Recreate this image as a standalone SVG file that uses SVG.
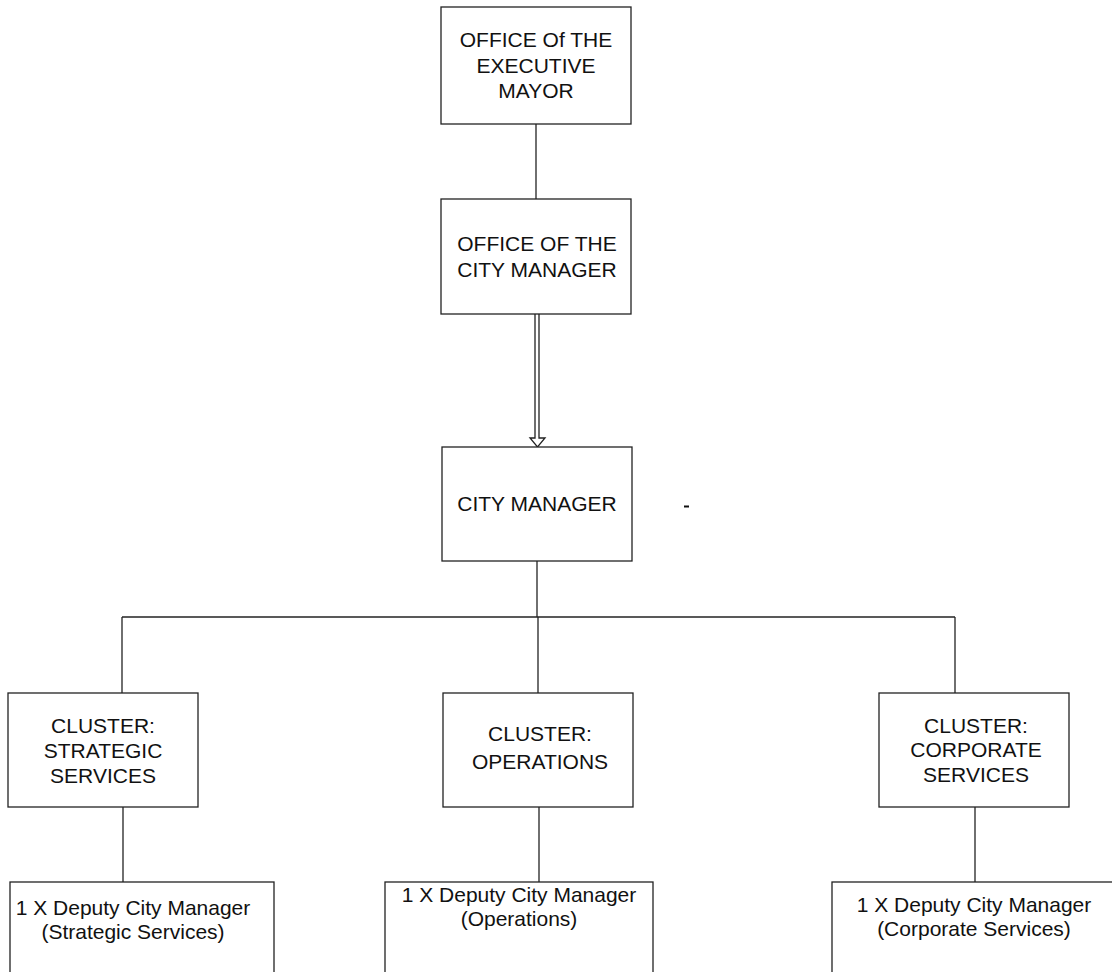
<svg xmlns="http://www.w3.org/2000/svg" width="1112" height="972" viewBox="0 0 1112 972">
<style>
.box{fill:#fff;stroke:#222;stroke-width:1.3}
.ln{fill:none;stroke:#222;stroke-width:1.3}
text{font-family:"Liberation Sans",Arial,sans-serif;font-size:21px;fill:#111;text-anchor:middle}
</style>
<rect width="1112" height="972" fill="#fff"/>
<g id="connectors">
<line class="ln" x1="536" y1="124" x2="536" y2="199"/>
<path class="ln" d="M535,314 V438 H530 L537.5,447 L545,438 H539 V314" fill="#fff"/>
<line class="ln" x1="537" y1="561" x2="537" y2="617"/>
<line class="ln" x1="122" y1="617" x2="955" y2="617"/>
<line class="ln" x1="122" y1="617" x2="122" y2="693"/>
<line class="ln" x1="538" y1="617" x2="538" y2="693"/>
<line class="ln" x1="955" y1="617" x2="955" y2="693"/>
<line class="ln" x1="123" y1="807" x2="123" y2="882"/>
<line class="ln" x1="539" y1="807" x2="539" y2="882"/>
<line class="ln" x1="975" y1="807" x2="975" y2="882"/>
<line class="ln" x1="1032" y1="961" x2="1112" y2="961" stroke="#777"/>
</g>
<line x1="684" y1="506.5" x2="689" y2="506.5" stroke="#111" stroke-width="2"/>
<g id="n-mayor">
<rect class="box" x="441" y="7" width="190" height="117"/>
<text x="536" y="47">OFFICE Of THE</text>
<text x="536" y="73">EXECUTIVE</text>
<text x="536" y="98">MAYOR</text>
</g>
<g id="n-office-cm">
<rect class="box" x="441" y="199" width="190" height="115"/>
<text x="537" y="251">OFFICE OF THE</text>
<text x="537" y="277">CITY MANAGER</text>
</g>
<g id="n-cm">
<rect class="box" x="442" y="447" width="190" height="114"/>
<text x="537" y="511">CITY MANAGER</text>
</g>
<g id="n-strategic">
<rect class="box" x="8" y="693" width="190" height="114"/>
<text x="103" y="733">CLUSTER:</text>
<text x="103" y="758">STRATEGIC</text>
<text x="103" y="783">SERVICES</text>
</g>
<g id="n-operations">
<rect class="box" x="443" y="693" width="190" height="114"/>
<text x="540" y="741">CLUSTER:</text>
<text x="540" y="769">OPERATIONS</text>
</g>
<g id="n-corporate">
<rect class="box" x="879" y="693" width="190" height="114"/>
<text x="976" y="733">CLUSTER:</text>
<text x="976" y="757">CORPORATE</text>
<text x="976" y="782">SERVICES</text>
</g>
<g id="n-dcm-strategic">
<rect class="box" x="10" y="882" width="264" height="120"/>
<text x="133" y="915">1 X Deputy City Manager</text>
<text x="133" y="939">(Strategic Services)</text>
</g>
<g id="n-dcm-operations">
<rect class="box" x="385" y="882" width="268" height="120"/>
<text x="519" y="902">1 X Deputy City Manager</text>
<text x="519" y="926">(Operations)</text>
</g>
<g id="n-dcm-corporate">
<rect class="box" x="832" y="882" width="290" height="120"/>
<text x="974" y="912">1 X Deputy City Manager</text>
<text x="974" y="936">(Corporate Services)</text>
</g>
</svg>
